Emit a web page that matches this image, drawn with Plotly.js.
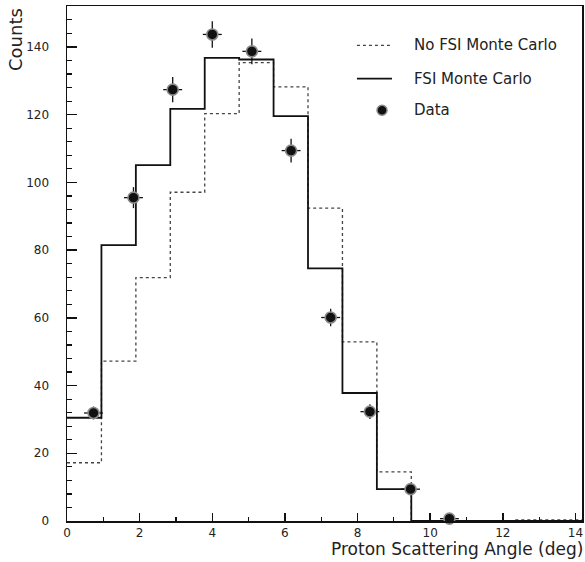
<!DOCTYPE html>
<html>
<head>
<meta charset="utf-8">
<script src="https://cdn.plot.ly/plotly-3.0.1.min.js"></script>
<style>html,body{margin:0;padding:0;background:#fff;}</style>
</head>
<body>
<div id="chart" style="width:585px;height:562px;"></div>
<script>
// Histogram bin edges (deg)
var binEdges = [0, 0.948, 1.896, 2.844, 3.792, 4.74, 5.688, 6.636, 7.584, 8.532, 9.48, 10.428, 11.376, 12.324, 13.272, 14.22];
// Monte Carlo bin contents
var fsiCounts   = [30.5, 81.5, 105.1, 121.7, 136.8, 136.3, 119.6, 74.6, 37.8, 9.4, 0, 0, 0, 0, 0];
var noFsiCounts = [17.2, 47.2, 71.9, 97.1, 120.3, 135.4, 128.2, 92.4, 52.9, 14.5, 0, 0, 0, 0.3, 0.3];
// Data points
var dataAngle  = [0.73, 1.83, 2.91, 4.0, 5.09, 6.17, 7.26, 8.34, 9.46, 10.53];
var dataCounts = [31.9, 95.5, 127.4, 143.7, 138.7, 109.4, 60.1, 32.3, 9.4, 0.7];
var dataErrY   = [1.9, 3.1, 3.7, 3.9, 3.8, 3.5, 2.6, 2.2, 1.3, 0.5];
var dataErrX   = [0.26, 0.26, 0.26, 0.26, 0.26, 0.26, 0.26, 0.26, 0.26, 0.26];
var legendLabels = ["No FSI Monte Carlo", "FSI Monte Carlo", "Data"];

function stepY(v) { return v.concat([v[v.length - 1]]); }

var FONT = "DejaVu Sans";

var traces = [
  {
    x: binEdges, y: stepY(noFsiCounts), type: "scatter", mode: "lines",
    line: {shape: "hv", color: "#444", width: 1.3, dash: "dot"},
    name: legendLabels[0], showlegend: false, hoverinfo: "skip"
  },
  {
    x: binEdges, y: stepY(fsiCounts), type: "scatter", mode: "lines",
    line: {shape: "hv", color: "#111", width: 1.8},
    name: legendLabels[1], showlegend: false, hoverinfo: "skip"
  },
  {
    x: dataAngle, y: dataCounts, type: "scatter", mode: "markers",
    marker: {symbol: "circle", size: 11, color: "#111", line: {color: "#8a8a8a", width: 1.6}},
    error_y: {type: "data", array: dataErrY, visible: true, width: 0, thickness: 1.3, color: "#111"},
    error_x: {type: "data", array: dataErrX, visible: true, width: 0, thickness: 1.3, color: "#111"},
    name: legendLabels[2], showlegend: false, cliponaxis: false
  }
];

// legend geometry helpers (paper coords)
var lx0 = 0.563, lx1 = 0.631, ltx = 0.67;
var ly = [0.9237, 0.859, 0.7975];

var layout = {
  width: 585, height: 562,
  margin: {l: 67, r: 3, t: 6, b: 41},
  paper_bgcolor: "#fff", plot_bgcolor: "#fff",
  showlegend: false,
  font: {family: FONT, color: "#111"},
  xaxis: {
    range: [0, 14.18], showgrid: false, zeroline: false,
    showline: true, linecolor: "#111", linewidth: 1.5, mirror: true,
    ticks: "inside", ticklen: 8, tickwidth: 1.4, tickcolor: "#111",
    dtick: 2, tick0: 0,
    minor: {dtick: 1, ticks: "inside", ticklen: 4, tickwidth: 1.2, tickcolor: "#111"},
    tickfont: {family: FONT, size: 12, color: "#222"},
    ticklabelstandoff: 0
  },
  yaxis: {
    range: [0, 152.1], showgrid: false, zeroline: false,
    showline: true, linecolor: "#111", linewidth: 1.5, mirror: true,
    ticks: "inside", ticklen: 10, tickwidth: 1.4, tickcolor: "#111",
    dtick: 20, tick0: 0,
    minor: {dtick: 4, ticks: "inside", ticklen: 5, tickwidth: 1.2, tickcolor: "#111"},
    tickfont: {family: FONT, size: 12, color: "#222"},
    ticklabelstandoff: 14
  },
  annotations: [
    {text: "Proton Scattering Angle (deg)", xref: "paper", yref: "paper",
     x: 1, y: -0.0783, xanchor: "right", yanchor: "bottom", xshift: 3,
     showarrow: false, font: {family: FONT, size: 17, color: "#222"}},
    {text: "Counts", xref: "paper", yref: "paper", textangle: -90,
     x: -0.1, y: 1, xanchor: "center", yanchor: "top", yshift: 0,
     showarrow: false, font: {family: FONT, size: 18, color: "#222"}},
    {text: legendLabels[0], xref: "paper", yref: "paper", x: ltx, y: ly[0],
     xanchor: "left", yanchor: "middle", showarrow: false, font: {family: FONT, size: 15, color: "#222"}},
    {text: legendLabels[1], xref: "paper", yref: "paper", x: ltx, y: ly[1],
     xanchor: "left", yanchor: "middle", showarrow: false, font: {family: FONT, size: 15, color: "#222"}},
    {text: legendLabels[2], xref: "paper", yref: "paper", x: ltx, y: ly[2],
     xanchor: "left", yanchor: "middle", showarrow: false, font: {family: FONT, size: 15, color: "#222"}}
  ],
  shapes: [
    {type: "line", xref: "paper", yref: "paper", x0: lx0, x1: lx1, y0: ly[0], y1: ly[0],
     line: {color: "#444", width: 1.3, dash: "dot"}},
    {type: "line", xref: "paper", yref: "paper", x0: lx0, x1: lx1, y0: ly[1], y1: ly[1],
     line: {color: "#111", width: 1.8}},
    {type: "circle", xref: "paper", yref: "paper", xsizemode: "pixel", ysizemode: "pixel",
     xanchor: 0.6117, yanchor: ly[2], x0: -5, x1: 5, y0: -5, y1: 5,
     fillcolor: "#111", line: {color: "#8a8a8a", width: 1.5}}
  ]
};

Plotly.newPlot("chart", traces, layout, {displayModeBar: false, staticPlot: true});
</script>
</body>
</html>
